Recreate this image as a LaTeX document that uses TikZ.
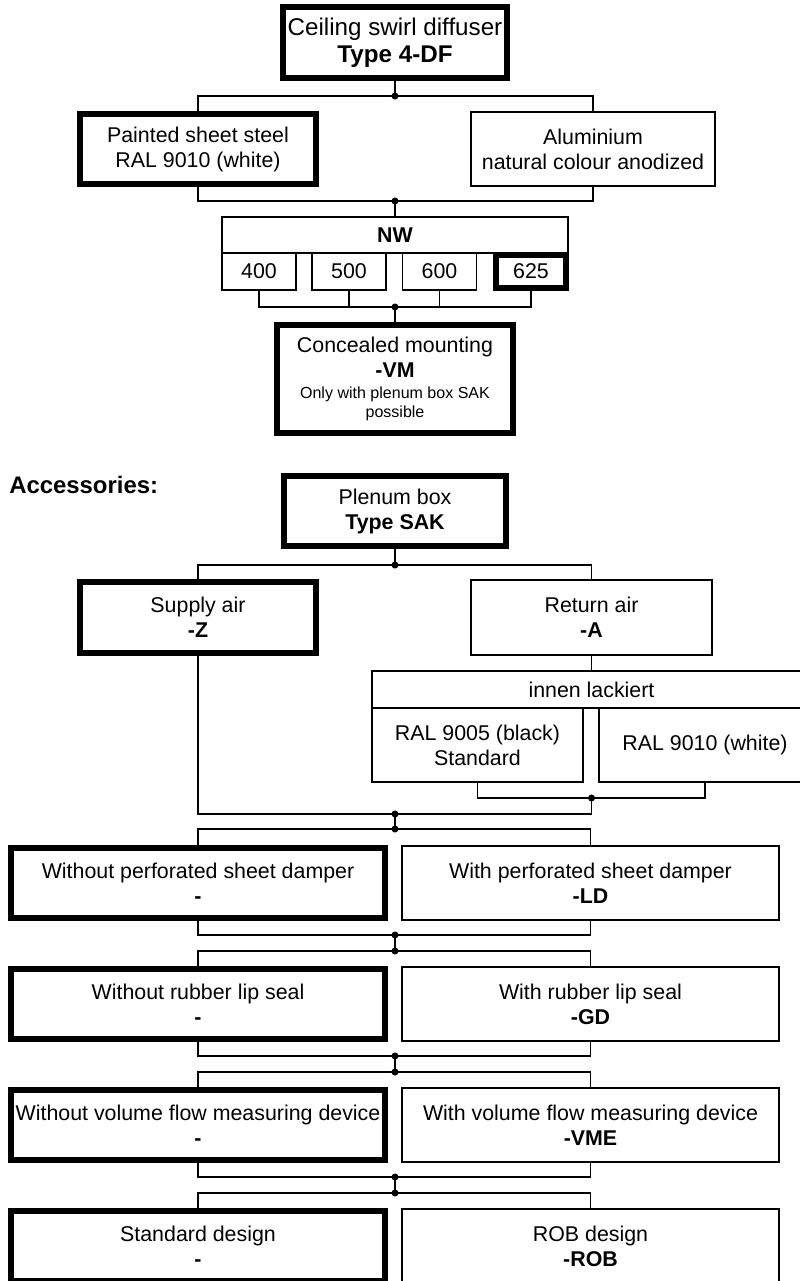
\documentclass[tikz,border=0pt]{standalone}
\usepackage{fontspec}
\setmainfont{Liberation Sans}

\newcommand\fine{\fontsize{11.4}{13.6}\selectfont}

\tikzset{
  box/.style={draw, line width=0.9pt, inner sep=0pt, align=center, font=\fontsize{15.2}{17.8}\selectfont},
  pick/.style={box, path picture={\draw[line width=7pt] (path picture bounding box.south west) rectangle (path picture bounding box.north east);}},
  wire/.style={line width=0.9pt},
}

\begin{document}
\begin{tikzpicture}[x=0.025cm, y=-0.025cm]
\useasboundingbox (0,0) rectangle (800,1281);
\clip (0,0) rectangle (800,1281);

\node[pick, minimum width=5.7cm, minimum height=1.875cm, font=\fontsize{17.2}{19.2}\selectfont] (diffuser) at (395,42.5) {Ceiling swirl diffuser\\\textbf{Type 4-DF}};
\node[pick, minimum width=6cm, minimum height=1.85cm] (steel) at (198,149) {Painted sheet steel\\RAL 9010 (white)};
\node[box, minimum width=6.1cm, minimum height=1.85cm] (alu) at (593,149) {Aluminium\\natural colour anodized};

\node[box, minimum width=8.65cm, minimum height=0.9cm] (nw) at (395,235) {\textbf{NW}};
\newcommand\sizeBox[4]{\node[#4, minimum width=1.85cm, minimum height=0.925cm] (#1) at (#2,271.5) {#3};}
\sizeBox{s400}{259}{400}{box}
\sizeBox{s500}{349}{500}{box}
\sizeBox{s600}{439.5}{600}{box}
\sizeBox{s625}{531}{625}{pick}

\node[pick, minimum width=6cm, minimum height=2.8cm] (vm) at (395,379) {Concealed mounting\\\textbf{-VM}\\[-3pt]{\fine Only with plenum box SAK}\\[-4.5pt]{\fine possible}};

\node[anchor=west, inner sep=0pt, font=\bfseries\fontsize{17}{20}\selectfont] (acc) at (9,485) {Accessories:};
\node[pick, minimum width=5.65cm, minimum height=1.85cm] (sak) at (395,511) {Plenum box\\\textbf{Type SAK}};
\node[pick, minimum width=6cm, minimum height=1.875cm] (supply) at (198,617.5) {Supply air\\\textbf{-Z}};
\node[box, minimum width=6.025cm, minimum height=1.875cm] (return) at (591.5,617.5) {Return air\\\textbf{-A}};
\node[box, minimum width=10.975cm, minimum height=0.925cm] (painted) at (591.5,689.5) {innen lackiert};
\node[box, minimum width=5.275cm, minimum height=1.85cm] (black) at (477.5,745) {RAL 9005 (black)\\Standard};
\node[box, minimum width=5.3cm, minimum height=1.85cm] (white) at (705,745) {RAL 9010 (white)};

\newcommand\optionRow[5]{%
\node[pick, minimum width=9.45cm, minimum height=1.85cm] (#1-l) at (198,#2) {#3\\\textbf{-}};
\node[box, minimum width=9.425cm, minimum height=1.85cm] (#1-r) at (590.5,#2) {#4\\\textbf{#5}};}
\optionRow{damper}{883}{Without perforated sheet damper}{With perforated sheet damper}{-LD}
\optionRow{seal}{1004}{Without rubber lip seal}{With rubber lip seal}{-GD}
\optionRow{vme}{1125}{Without volume flow measuring device}{With volume flow measuring device}{-VME}
\optionRow{rob}{1246}{Standard design}{ROB design}{-ROB}

% junctions
\coordinate (j1) at (395,96);
\coordinate (j2) at (395,201);
\coordinate (j3) at (395,307);
\coordinate (j4) at (395,565);
\coordinate (jr) at (591.5,798);
\coordinate (m0) at (395,814);
\coordinate (s1) at (395,829);
\coordinate (m1) at (395,935);
\coordinate (s2) at (395,951);
\coordinate (m2) at (395,1056);
\coordinate (s3) at (395,1072);
\coordinate (m3) at (395,1177);
\coordinate (s4) at (395,1193);

\draw[wire] (diffuser) -- (j1);
\draw[wire] (steel.north) |- (j1) -| (alu.north);
\draw[wire] (steel.south) |- (j2) -| (alu.south);
\draw[wire] (j2) -- (nw);
\draw[wire] (s400.south) |- (j3) -| (s625.south);
\draw[wire] (s500.south) |- (j3);
\draw[wire] (s600.south) |- (j3);
\draw[wire] (j3) -- (vm);
\draw[wire] (sak) -- (j4);
\draw[wire] (supply.north) |- (j4) -| (return.north);
\draw[wire] (return) -- (painted);
\draw[wire] (black.south) |- (jr) -| (white.south);
\draw[wire] (supply.south) |- (m0) -| (jr);
\draw[wire] (m0) -- (s1);
\foreach \row/\sj/\mj/\nj in {damper/s1/m1/s2, seal/s2/m2/s3, vme/s3/m3/s4}{
  \draw[wire] (\row-l.north) |- (\sj) -| (\row-r.north);
  \draw[wire] (\row-l.south) |- (\mj) -| (\row-r.south);
  \draw[wire] (\mj) -- (\nj);
}
\draw[wire] (rob-l.north) |- (s4) -| (rob-r.north);

\foreach \j in {j1,j2,j3,j4,jr,m0,s1,m1,s2,m2,s3,m3,s4}
  \fill (\j) circle (2.5pt);
\end{tikzpicture}
\end{document}
